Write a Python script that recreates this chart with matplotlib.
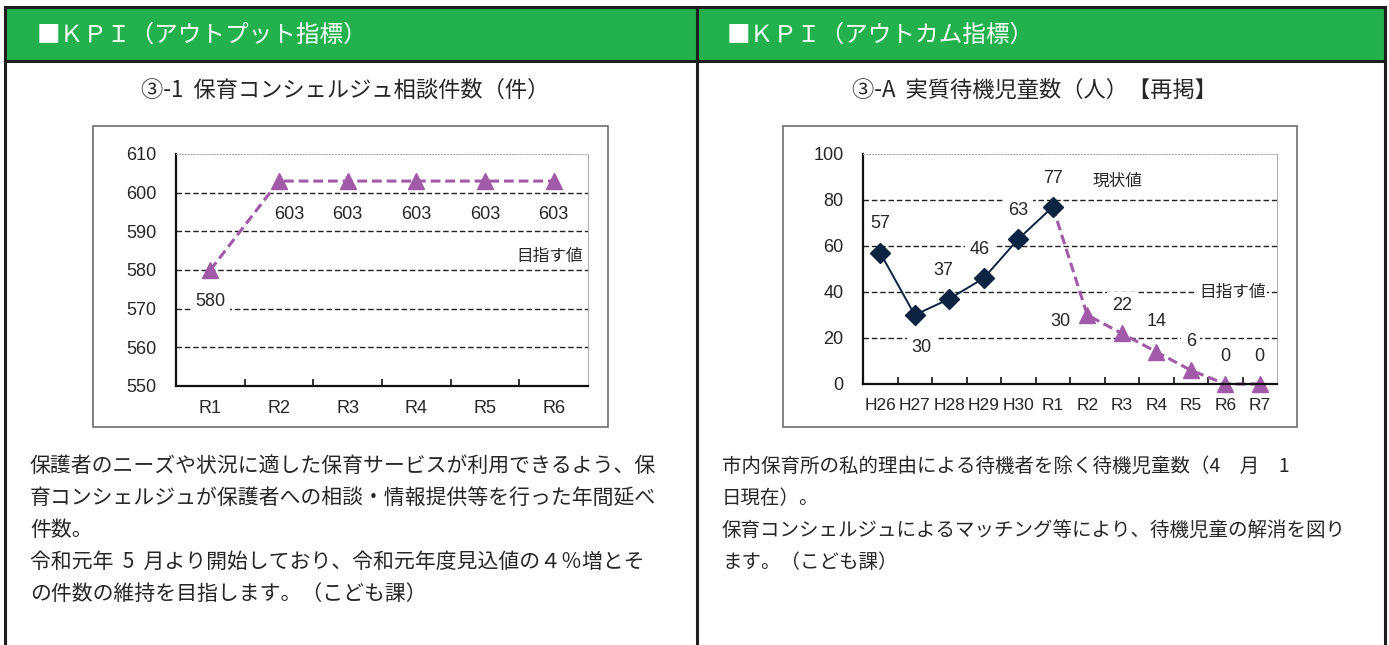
import matplotlib
matplotlib.use('Agg')
import matplotlib.pyplot as plt
from matplotlib.lines import Line2D
from matplotlib.patches import Rectangle

# data
out_cats = ['R1', 'R2', 'R3', 'R4', 'R5', 'R6']
out_vals = [580, 603, 603, 603, 603, 603]

res_cats = ['H26', 'H27', 'H28', 'H29', 'H30', 'R1', 'R2', 'R3', 'R4', 'R5', 'R6', 'R7']
actual_vals = [57, 30, 37, 46, 63, 77]          # H26..R1 (現状値)
target_vals = [77, 30, 22, 14, 6, 0, 0]         # R1..R7 (目指す値)

left_title = '■ＫＰＩ（アウトプット指標）'
right_title = '■ＫＰＩ（アウトカム指標）'
left_sub = '③-1  保育コンシェルジュ相談件数（件）'
right_sub = '③-A  実質待機児童数（人）【再掲】'
left_body = ['保護者のニーズや状況に適した保育サービスが利用できるよう、保',
             '育コンシェルジュが保護者への相談・情報提供等を行った年間延べ',
             '件数。',
             '令和元年  5  月より開始しており、令和元年度見込値の４％増とそ',
             'の件数の維持を目指します。（こども課）']
right_body = ['市内保育所の私的理由による待機者を除く待機児童数（4　月　1',
              '日現在）。',
              '保育コンシェルジュによるマッチング等により、待機児童の解消を図り',
              'ます。（こども課）']

W, H = 1389, 645
GREEN = '#23b14d'
PURPLE = '#a15aa8'
NAVY = '#0c2342'
TXT = '#262626'
JP = ['Noto Sans CJK JP', 'DejaVu Sans']
NUM = ['Liberation Sans', 'Noto Sans CJK JP']
plt.rcParams['font.family'] = NUM


def fx(px):
    return px / W


def fy(py):
    return 1 - py / H


fig = plt.figure(figsize=(W / 100, H / 100), dpi=100)
fig.patch.set_facecolor('white')

# panel frame
fig.add_artist(Rectangle((fx(5), fy(61)), fx(1385) - fx(5), fy(7) - fy(61),
                         transform=fig.transFigure, facecolor=GREEN, edgecolor='none', zorder=-2))
for xs, ys in [([5, 1385], [7, 7]), ([5, 1385], [61, 61]), ([5, 5], [7, 645]),
               ([1385, 1385], [7, 645]), ([697, 697], [7, 645])]:
    fig.add_artist(Line2D([fx(x) for x in xs], [fy(y) for y in ys], transform=fig.transFigure,
                          color='#1e1e1e', lw=2.2, zorder=-1))

fig.text(fx(37), fy(35), left_title, color='white', fontsize=17, family=JP, va='center')
fig.text(fx(727), fy(35), right_title, color='white', fontsize=17, family=JP, va='center')
fig.text(fx(345), fy(90), left_sub, color=TXT, fontsize=16, family=JP, va='center', ha='center')
fig.text(fx(1035), fy(90), right_sub, color=TXT, fontsize=16, family=JP, va='center', ha='center')

for i, line in enumerate(left_body):
    fig.text(fx(30), fy(466 + i * 32), line, color=TXT, fontsize=15, family=JP, va='center')
for i, line in enumerate(right_body):
    fig.text(fx(722), fy(466 + i * 32), line, color=TXT, fontsize=14, family=JP, va='center')

# chart boxes
for x0, x1 in [(93, 608), (783, 1297)]:
    fig.add_artist(Rectangle((fx(x0), fy(427)), fx(x1) - fx(x0), fy(126) - fy(427),
                             transform=fig.transFigure, facecolor='white', edgecolor='#6e6e6e',
                             lw=1.2, zorder=-1))


def style_axes(ax, ncat, ylim, grid_vals):
    ax.set_facecolor('none')
    ax.set_xlim(-0.5, ncat - 0.5)
    ax.set_ylim(*ylim)
    for v in grid_vals:
        ax.axhline(v, color='#222222', lw=1, ls=(0, (4, 2)), zorder=1)
    ax.spines['left'].set_color('#111111')
    ax.spines['left'].set_linewidth(1.6)
    ax.spines['bottom'].set_color('#111111')
    ax.spines['bottom'].set_linewidth(1.6)
    ax.spines['top'].set_color('#b0b0b0')
    ax.spines['top'].set_linestyle(':')
    ax.spines['right'].set_color('#b0b0b0')
    ax.set_xticks(range(ncat))
    ax.set_xticks([i + 0.5 for i in range(ncat - 1)], minor=True)
    ax.tick_params(axis='x', which='major', length=0, pad=10, labelsize=13, labelcolor=TXT)
    ax.tick_params(axis='x', which='minor', length=5, direction='in', color='#111111', width=1.2)
    ax.tick_params(axis='y', length=0, pad=14, labelsize=13, labelcolor=TXT)


def label(ax, x, y, s, dx, dy, ha='center'):
    ax.annotate(s, (x, y), xytext=(dx / 1.389, dy / 1.389), textcoords='offset points',
                ha=ha, va='center', fontsize=13, color=TXT, family=NUM, zorder=4,
                bbox=dict(boxstyle='square,pad=0.25', fc='white', ec='none'))


# left chart
ax1 = fig.add_axes([fx(176), fy(386), fx(588) - fx(176), fy(154) - fy(386)])
style_axes(ax1, len(out_cats), (550, 610), [560, 570, 580, 590, 600])
ax1.set_yticks(range(550, 611, 10))
ax1.set_xticklabels(out_cats)
ax1.plot(range(len(out_vals)), out_vals, color=PURPLE, lw=2.2, dashes=(3.2, 1.6),
         marker='^', ms=11, zorder=3)
for i, v in enumerate(out_vals):
    label(ax1, i, v, str(v), 10 if i == 1 else 0, -33 if i else -32)
ax1.text(5.43, 583.4, '目指す値', ha='right', va='center', fontsize=12, color=TXT, family=JP)

# right chart
ax2 = fig.add_axes([fx(863), fy(384), fx(1277) - fx(863), fy(154) - fy(384)])
style_axes(ax2, len(res_cats), (0, 100), [20, 40, 60, 80])
ax2.set_yticks(range(0, 101, 20))
ax2.set_xticklabels(res_cats)
ax2.tick_params(axis='x', which='major', labelsize=12.5)
n0 = len(actual_vals) - 1
ax2.plot(range(n0, n0 + len(target_vals)), target_vals, color=PURPLE, lw=2.2, dashes=(3.2, 1.6),
         marker='^', ms=11, markevery=list(range(1, len(target_vals))), zorder=2, clip_on=False)
ax2.plot(range(len(actual_vals)), actual_vals, color=NAVY, lw=1.4, marker='D', ms=10, zorder=3)

act_off = [(0, 29), (7, -33), (-6, 28), (-4, 29), (0, 29), (0, 28)]
for i, v in enumerate(actual_vals):
    label(ax2, i, v, str(v), *act_off[i])
tgt_off = [(-27, -7), (0, 28), (0, 30), (0, 29), (0, 28), (0, 28)]
for j, v in enumerate(target_vals[1:]):
    label(ax2, n0 + 1 + j, v, str(v), *tgt_off[j])
ax2.text(6.89, 88, '現状値', ha='center', va='center', fontsize=12, color=TXT, family=JP)
ax2.text(10.2, 40, '目指す値', ha='center', va='center', fontsize=12, color=TXT, family=JP,
         bbox=dict(boxstyle='square,pad=0.1', fc='white', ec='none'), zorder=4)

fig.savefig('out.png', dpi=100, facecolor='white')
